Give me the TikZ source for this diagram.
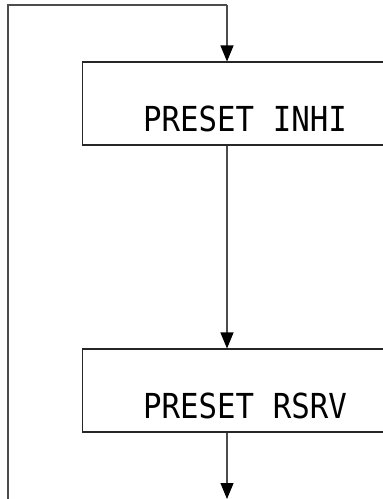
\documentclass[tikz,border=0pt]{standalone}
\usepackage{fontspec}
\setmonofont{DejaVu Sans Mono}
\usepackage{graphicx}
\usetikzlibrary{arrows.meta,positioning,calc}
\newcommand{\dispText}[1]{\raisebox{-0.56cm}[0pt][0pt]{\scalebox{1}[1.12]{\ttfamily\fontsize{17.5}{20}\selectfont #1}}}

\begin{document}
\begin{tikzpicture}[
    x=0.02cm, y=-0.02cm,
    preset/.style={rectangle, draw=black!85, line width=0.6pt, minimum width=6.52cm, minimum height=1.66cm, inner sep=0pt},
    arr/.style={-{Triangle[width=0.26cm, length=0.32cm, color=black]}, draw=black!70, line width=0.6pt},
    loopline/.style={draw=black!70, line width=0.6pt}
]
\useasboundingbox (0,0) rectangle (382,499);

\node[preset] (inhi) at (245,103.5) {\dispText{PRESET INHI}};
\node[preset] (rsrv) at (245,390.5) {\dispText{PRESET RSRV}};

\coordinate (lt) at (8,5);
\coordinate (rt) at (227,5);
\coordinate (lb) at (8,510);
\coordinate (out) at (227,499);

\draw[loopline] (lb) -- (lt) -- (rt);
\draw[arr] (rt) -- (rt |- inhi.north);
\draw[arr] (rt |- inhi.south) -- (rt |- rsrv.north);
\draw[arr] (rt |- rsrv.south) -- (out);
\end{tikzpicture}
\end{document}
